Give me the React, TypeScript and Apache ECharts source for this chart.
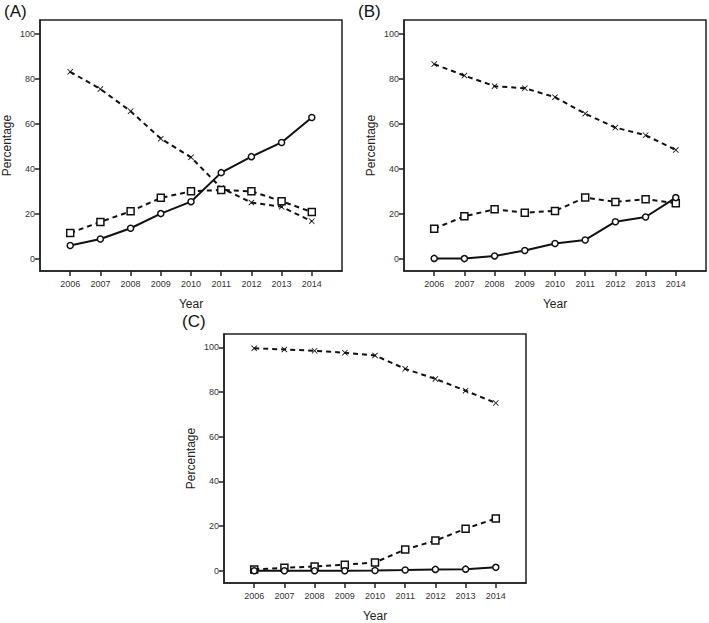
import React, { useEffect, useRef } from "react";
import * as echarts from "echarts";

const years = [2006, 2007, 2008, 2009, 2010, 2011, 2012, 2013, 2014];
const yTicks = [0, 20, 40, 60, 80, 100];

const aCircle = [5.8, 8.7, 13.5, 20.0, 25.3, 38.2, 45.3, 51.6, 62.7];
const aSquare = [11.4, 16.3, 21.0, 27.0, 29.9, 30.5, 29.9, 25.5, 20.7];
const aCross = [83.0, 75.3, 65.5, 53.3, 45.0, 31.4, 24.9, 23.0, 16.6];

const bCircle = [0.1, 0.0, 1.2, 3.6, 6.7, 8.3, 16.4, 18.5, 27.1];
const bSquare = [13.3, 18.8, 21.9, 20.4, 21.2, 27.1, 25.2, 26.4, 24.6];
const bCross = [86.4, 81.3, 76.6, 75.7, 71.7, 64.4, 58.2, 54.8, 48.3];

const cCircle = [0.0, 0.0, 0.0, 0.0, 0.1, 0.3, 0.6, 0.7, 1.5];
const cSquare = [0.6, 1.3, 1.9, 2.7, 3.7, 9.5, 13.5, 18.8, 23.4];
const cCross = [99.6, 99.1, 98.5, 97.6, 96.4, 90.4, 85.9, 80.6, 75.1];

const panelLabels = ["(A)", "(B)", "(C)"];
const panels = [
  { circle: aCircle, square: aSquare, cross: aCross },
  { circle: bCircle, square: bSquare, cross: bCross },
  { circle: cCircle, square: cSquare, cross: cCross },
];

const crossPath =
  "path://M0,1 L1,0 L5,4 L9,0 L10,1 L6,5 L10,9 L9,10 L5,6 L1,10 L0,9 L4,5 Z";

const FONT = "Liberation Sans, Arial, sans-serif";
const INK = "#111";

export default function App() {
  const ref = useRef<HTMLDivElement>(null);
  useEffect(() => {
    if (!ref.current) return;
    const chart = echarts.init(ref.current, undefined, { renderer: "svg" });
    const grids = [
      { left: 40, top: 20, width: 302, height: 251 },
      { left: 404, top: 20, width: 302, height: 251 },
      { left: 224, top: 334, width: 302, height: 250 },
    ];
    const titlePos = [
      { x: 4, y: 3 },
      { x: 358, y: 3 },
      { x: 182, y: 313 },
    ];
    const toPairs = (vals: number[]) => years.map((y, i) => [y, vals[i]]);
    const series: any[] = [];
    panels.forEach((p, gi) => {
      series.push({
        type: "line",
        xAxisIndex: gi,
        yAxisIndex: gi,
        data: toPairs(p.cross),
        symbol: crossPath,
        symbolSize: 6,
        lineStyle: { color: INK, width: 2, type: [5, 4] },
        itemStyle: { color: INK },
        z: 3,
      });
      series.push({
        type: "line",
        xAxisIndex: gi,
        yAxisIndex: gi,
        data: toPairs(p.square),
        symbol: "rect",
        symbolSize: 7,
        lineStyle: { color: INK, width: 2, type: [5, 4] },
        itemStyle: { color: "#fff", borderColor: INK, borderWidth: 1.5 },
        z: 4,
      });
      series.push({
        type: "line",
        xAxisIndex: gi,
        yAxisIndex: gi,
        data: toPairs(p.circle),
        symbol: "circle",
        symbolSize: 6,
        showSymbol: true,
        lineStyle: { color: INK, width: 2 },
        itemStyle: { color: "#fff", borderColor: INK, borderWidth: 1.5 },
        z: 5,
      });
    });
    const option: any = {
      animation: false,
      backgroundColor: "#fff",
      textStyle: { fontFamily: FONT },
      graphic: panelLabels.map((t, i) => ({
        type: "text",
        x: titlePos[i].x,
        y: titlePos[i].y,
        style: { text: t, font: `17px ${FONT}`, fill: "#111" },
      })),
      grid: grids.map((g) => ({
        ...g,
        show: true,
        borderColor: "#222",
        borderWidth: 1.5,
        backgroundColor: "transparent",
      })),
      xAxis: grids.map((_, i) => ({
        type: "value",
        gridIndex: i,
        min: 2005,
        max: 2015,
        name: "Year",
        nameLocation: "middle",
        nameGap: 27,
        nameTextStyle: { fontSize: 12, color: "#222", fontFamily: FONT },
        axisLine: { show: true, onZero: false, lineStyle: { color: "#222", width: 1.5 } },
        axisTick: { show: true, length: 5, customValues: years, lineStyle: { color: "#222", width: 1.5 } },
        axisLabel: {
          customValues: years,
          fontSize: 9,
          color: "#333",
          margin: 8,
          fontFamily: FONT,
          formatter: (v: number) => String(v),
        },
        splitLine: { show: false },
      })),
      yAxis: grids.map((_, i) => ({
        type: "value",
        gridIndex: i,
        min: -5.5,
        max: 106,
        name: "Percentage",
        nameLocation: "middle",
        nameGap: 27,
        nameTextStyle: { fontSize: 12, color: "#222", fontFamily: FONT },
        axisLine: { show: true, onZero: false, lineStyle: { color: "#222", width: 1.5 } },
        axisTick: { show: true, length: 5, customValues: yTicks, lineStyle: { color: "#222", width: 1.5 } },
        axisLabel: {
          customValues: yTicks,
          fontSize: 9,
          color: "#333",
          margin: 5,
          fontFamily: FONT,
        },
        splitLine: { show: false },
      })),
      series,
    };
    chart.setOption(option);
    return () => chart.dispose();
  }, []);
  return (
    <div
      ref={ref}
      style={{ position: "absolute", left: 0, top: 0, width: 709, height: 623, background: "#fff" }}
    />
  );
}
